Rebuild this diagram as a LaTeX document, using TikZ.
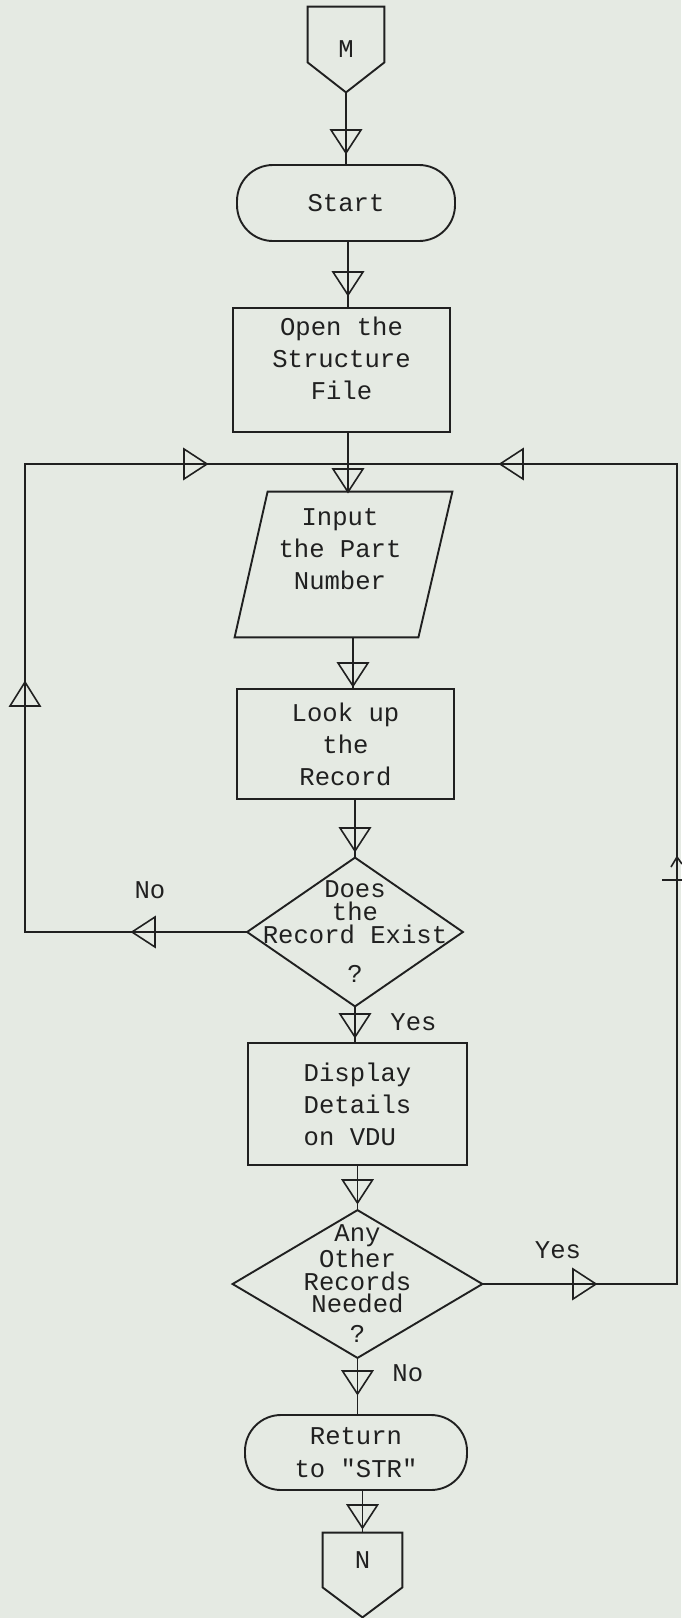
\documentclass[tikz,border=0pt]{standalone}
\usepackage{fontspec}
\setmainfont{Liberation Mono}
\definecolor{paper}{RGB}{229,234,227}
\definecolor{ink}{RGB}{32,32,32}
\tikzset{
  conn/.style={draw=ink, line width=0.8pt},
  shp/.style={draw=ink, line width=0.95pt},
  txt/.style={text=ink, font=\fontsize{12.8}{16}\selectfont, align=center, inner sep=0pt},
  box/.style={shp, rectangle, inner sep=0pt, txt},
  term/.style={shp, rectangle, rounded corners=18pt, inner sep=0pt, txt},
  ghost/.style={draw=none, rectangle, inner sep=0pt, txt},
  dn/.pic={\draw[conn] (-15,0) -- (15,0) -- (0,23) -- cycle;},
  upt/.pic={\draw[conn] (0,0) -- (-15,24) -- (15,24) -- cycle;},
  lft/.pic={\draw[conn] (0,0) -- (23,-15) -- (23,15) -- cycle;},
  rgt/.pic={\draw[conn] (0,0) -- (-23,-15) -- (-23,15) -- cycle;},
}
\begin{document}
\begin{tikzpicture}[x=0.5pt,y=-0.5pt]
\fill[paper] (0,0) rectangle (681,1618);
\useasboundingbox (0,0) rectangle (681,1618);

% M off-page connector
\node[ghost, minimum width=38pt, minimum height=42.5pt] (M) at (346,49.5) {M};
\draw[shp] (M.north west) -- (M.north east) -- ([yshift=15pt]M.south east) -- (M.south) -- ([yshift=15pt]M.south west) -- cycle;

\node[term, minimum width=109pt, minimum height=38pt] (start) at (346,203) {Start};

\node[box, minimum width=108.5pt, minimum height=62pt] (open) at (341.5,370) {};
\node[txt] (opent) at (341.5,358.5) {Open the\\Structure\\File};

\node[ghost, minimum width=108.5pt, minimum height=72.5pt] (inp) at (343.5,564.5) {};
\draw[shp] ([xshift=16.5pt]inp.north west) -- (inp.north east) -- ([xshift=-17pt]inp.south east) -- (inp.south west) -- cycle;
\node[txt] (inpt) at (340,549) {Input\\the Part\\Number};

\node[box, minimum width=108.5pt, minimum height=55pt] (look) at (345.5,744) {Look up\\the\\Record};

\node[ghost, minimum width=107.5pt, minimum height=74pt, font=\fontsize{12.8}{11.5}\selectfont] (d1) at (355,932) {Does\\the\\Record Exist\\[8pt]?};
\draw[shp] (d1.north) -- (d1.east) -- (d1.south) -- (d1.west) -- cycle;

\node[box, minimum width=109.5pt, minimum height=61pt, align=left] (disp) at (357.5,1104) {Display\\Details\\on VDU};

\node[ghost, minimum width=124.5pt, minimum height=73.5pt, font=\fontsize{12.8}{11.2}\selectfont] (d2) at (357.5,1284) {Any\\Other\\Records\\Needed\\[4pt]?};
\draw[shp] (d2.north) -- (d2.east) -- (d2.south) -- (d2.west) -- cycle;

\node[term, minimum width=111pt, minimum height=37.5pt, font=\fontsize{12.8}{16.5}\selectfont] (ret) at (356,1452.5) {Return\\to \textquotedbl STR\textquotedbl};

% N off-page connector
\node[ghost, minimum width=39.5pt, minimum height=27pt] (N) at (362.5,1560) {N};
\draw[shp] (N.north west) -- (N.north east) -- (N.south east) -- ([yshift=-15pt]N.south) -- (N.south west) -- cycle;

% connectors
\coordinate (j) at (348,464);
\coordinate (c3) at (353,0);
\coordinate (lc) at (25,464);
\coordinate (rc) at (677,464);
\draw[conn] (M.south) -- (start.north);
\draw[conn] (start.south -| j) -- (open.north -| j);
\draw[conn] (open.south -| j) -- (j);
\draw[conn] (j) -- (inp.north -| j);
\draw[conn] (inp.south -| c3) -- (look.north -| c3);
\draw[conn] (look.south -| d1.north) -- (d1.north);
\draw[conn] (d1.south) -- (d1.south |- disp.north);
\draw[conn] (disp.south -| d2.north) -- (d2.north);
\draw[conn] (d2.south) -- (d2.south |- ret.north);
\draw[conn] (ret.south -| N.north) -- (N.north);
\draw[conn] (d1.west) -- (d1.west -| lc) -- (lc) -- (j);
\draw[conn] (d2.east) -- (d2.east -| rc) -- (rc) -- (j);

% flow triangles
\pic at (346,130) {dn};
\pic at (348,272) {dn};
\pic at (348,469) {dn};
\pic at (353,663) {dn};
\pic at (355,828) {dn};
\pic at (355,1014) {dn};
\pic at (357.5,1180) {dn};
\pic at (357.5,1371) {dn};
\pic at (362.5,1505) {dn};
\pic at (207,464) {rgt};
\pic at (500,464) {lft};
\pic at (132,932) {lft};
\pic at (596,1284) {rgt};
\pic at (25,682) {upt};
\draw[conn] (662,880) -- (692,880);
\draw[conn] (671,867) -- (677,857) -- (682,864);

% labels
\node[txt] (lno) at (150,890) {No};
\node[txt, anchor=west] (lyes) at (390,1022) {Yes};
\node[txt] (ryes) at (558,1250) {Yes};
\node[txt, anchor=west] (lno2) at (392,1373) {No};
\end{tikzpicture}
\end{document}
